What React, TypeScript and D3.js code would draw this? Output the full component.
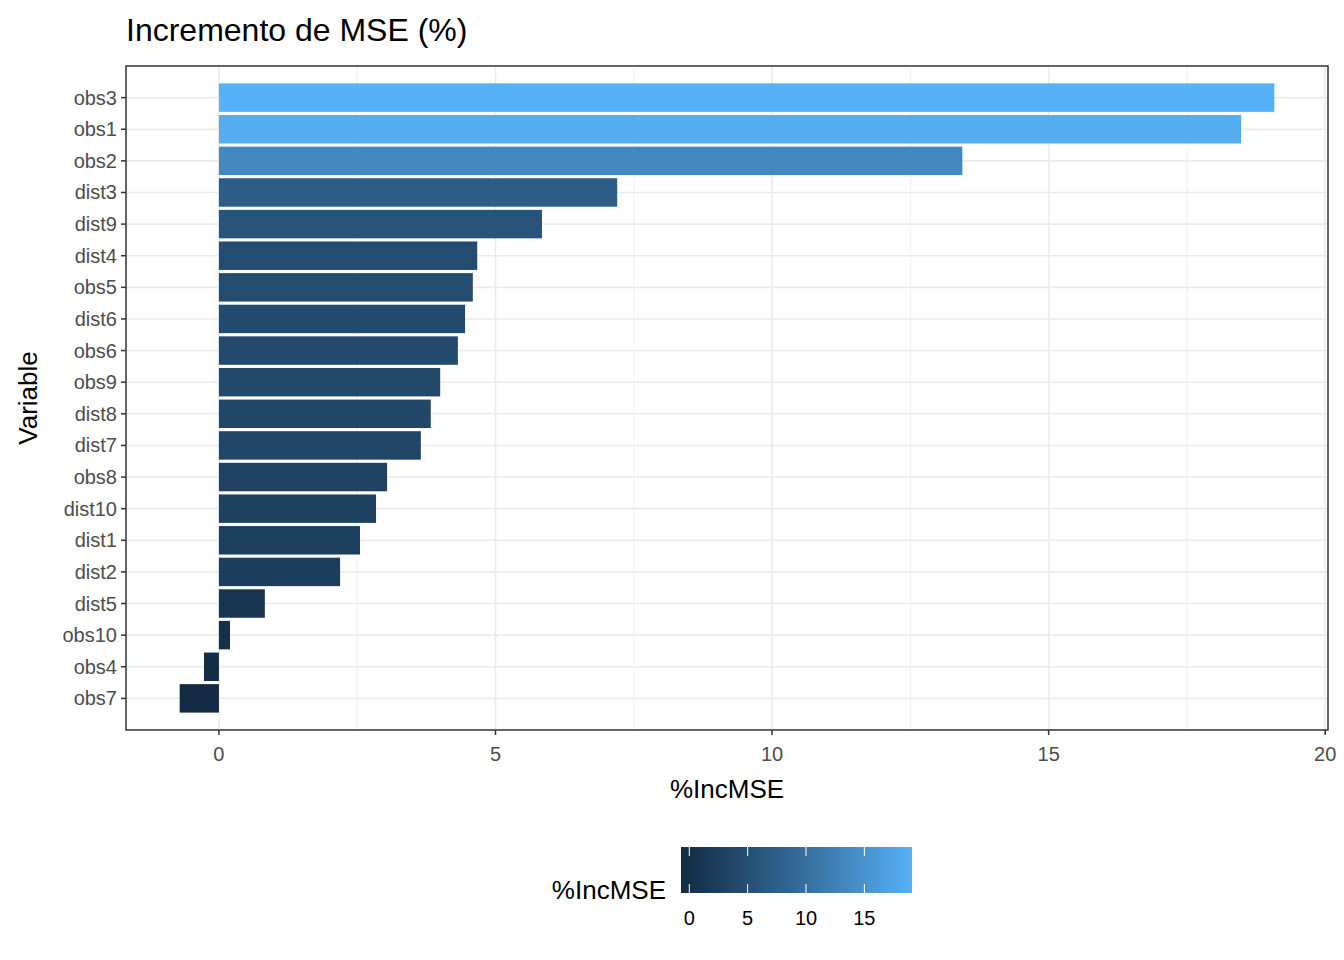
import * as d3 from "d3";

const variables = ["obs3", "obs1", "obs2", "dist3", "dist9", "dist4", "obs5", "dist6", "obs6", "obs9", "dist8", "dist7", "obs8", "dist10", "dist1", "dist2", "dist5", "obs10", "obs4", "obs7"];
const incMSE = [19.08, 18.48, 13.44, 7.2, 5.84, 4.67, 4.59, 4.45, 4.32, 4.0, 3.83, 3.65, 3.04, 2.84, 2.55, 2.19, 0.83, 0.2, -0.27, -0.71];
const xTicks = [0, 5, 10, 15, 20];
const xMinor = [2.5, 7.5, 12.5, 17.5];
const legendTicks = [0, 5, 10, 15];

const font = "'Liberation Sans', Arial, sans-serif";

export default function App() {
  const left = 126, right = 1328, top = 66, bottom = 730;
  const x = d3.scaleLinear().domain([-1.68, 20.05]).range([left, right]);
  const y = d3.scaleBand().domain(variables).range([top, bottom]).paddingInner(0.1).paddingOuter(0.55);
  const [lo, hi] = d3.extent(incMSE) as [number, number];
  const color = d3.scaleLinear<string>().domain([lo, hi]).range(["#132B43", "#56B1F7"]).interpolate(d3.interpolateLab);
  const lx = d3.scaleLinear().domain([lo, hi]).range([681, 912]);
  const stops = d3.range(0, 1.0001, 0.1);

  return (
    <svg width={1344} height={960} style={{ position: "absolute", left: 0, top: 0, background: "#fff" }} fontFamily={font}>
      <defs>
        <linearGradient id="bar" x1="0" x2="1" y1="0" y2="0">
          {stops.map((t) => (
            <stop key={t} offset={t} stopColor={color(lo + t * (hi - lo))} />
          ))}
        </linearGradient>
      </defs>
      <text x={126} y={41} fontSize={32} fill="#000">Incremento de MSE (%)</text>
      {xMinor.map((v) => (
        <line key={v} x1={x(v)} x2={x(v)} y1={top} y2={bottom} stroke="#EBEBEB" strokeWidth={0.8} />
      ))}
      {xTicks.map((v) => (
        <line key={v} x1={x(v)} x2={x(v)} y1={top} y2={bottom} stroke="#EBEBEB" strokeWidth={1.6} />
      ))}
      {variables.map((v) => {
        const cy = (y(v) ?? 0) + y.bandwidth() / 2;
        return <line key={v} x1={left} x2={right} y1={cy} y2={cy} stroke="#EBEBEB" strokeWidth={1.6} />;
      })}
      {variables.map((v, i) => (
        <rect key={v} x={x(Math.min(0, incMSE[i]))} width={Math.abs(x(incMSE[i]) - x(0))} y={y(v)} height={y.bandwidth()} fill={color(incMSE[i])} />
      ))}
      <rect x={left} y={top} width={right - left} height={bottom - top} fill="none" stroke="#333" strokeWidth={1.5} />
      {variables.map((v) => {
        const cy = (y(v) ?? 0) + y.bandwidth() / 2;
        return (
          <g key={v}>
            <line x1={left - 5} x2={left} y1={cy} y2={cy} stroke="#333" strokeWidth={1.5} />
            <text x={left - 9} y={cy} dy="0.35em" textAnchor="end" fontSize={20} fill="#4D4D4D">{v}</text>
          </g>
        );
      })}
      {xTicks.map((v) => (
        <g key={v}>
          <line x1={x(v)} x2={x(v)} y1={bottom} y2={bottom + 5} stroke="#333" strokeWidth={1.5} />
          <text x={x(v)} y={bottom + 31} textAnchor="middle" fontSize={20} fill="#4D4D4D">{v}</text>
        </g>
      ))}
      <text x={(left + right) / 2} y={798} textAnchor="middle" fontSize={26} fill="#000">%IncMSE</text>
      <text transform={`translate(37,${(top + bottom) / 2}) rotate(-90)`} textAnchor="middle" fontSize={26} fill="#000">Variable</text>
      <text x={666} y={899} textAnchor="end" fontSize={26} fill="#000">%IncMSE</text>
      <rect x={681} y={847} width={231} height={46} fill="url(#bar)" />
      {legendTicks.map((v) => (
        <g key={v}>
          <line x1={lx(v)} x2={lx(v)} y1={847} y2={856} stroke="#fff" strokeWidth={1} />
          <line x1={lx(v)} x2={lx(v)} y1={884} y2={893} stroke="#fff" strokeWidth={1} />
          <text x={lx(v)} y={925} textAnchor="middle" fontSize={20} fill="#000">{v}</text>
        </g>
      ))}
    </svg>
  );
}
